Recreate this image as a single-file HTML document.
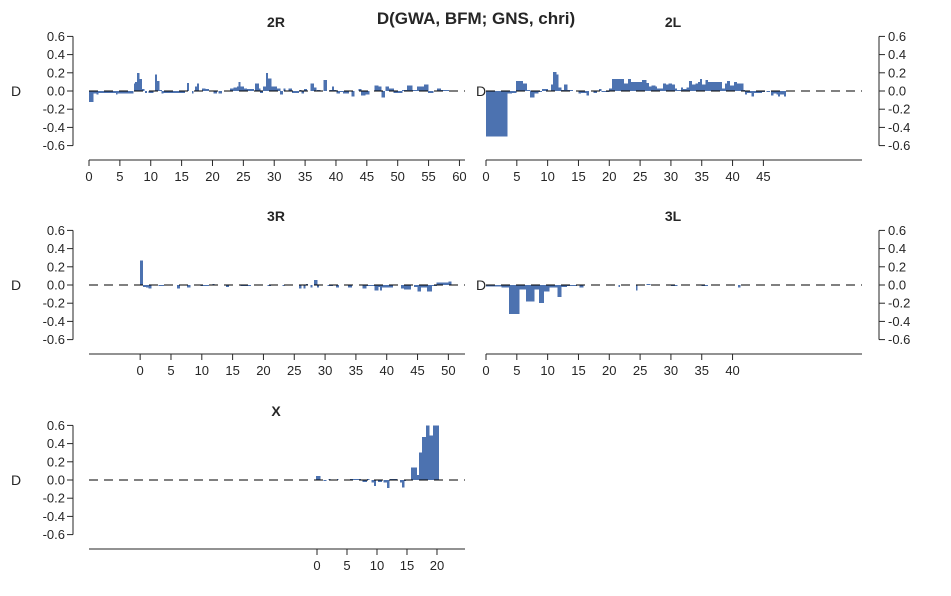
<!DOCTYPE html>
<html><head><meta charset="utf-8">
<style>
html,body{margin:0;padding:0;background:#fff;}
svg{display:block;font-family:"Liberation Sans",Arial,sans-serif;}
</style></head>
<body>
<svg id="chart" width="951" height="596" viewBox="0 0 951 596">
<text x="476" y="24" text-anchor="middle" font-size="17" font-weight="bold" fill="#262626">D(GWA, BFM; GNS, chri)</text>
</svg>
<script>
// ---- data (genomic window starts/ends in Mb, D values) ----
const r2R_start=[0,0.65,1.24,1.51,3.14,4.38,4.59,7.3,7.46,7.78,8.16,8.54,9.08,9.62,10.7,10.97,11.35,11.78,12.05,15.84,16.65,17.19,17.46,18.27,18.81,20.16,20.97,22.86,23.41,23.95,24.22,24.49,25.03,25.57,26.92,27.46,27.73,28.16,28.7,28.97,29.51,30.43,30.97,31.51,32.32,32.86,34.11,34.38,34.86,35.84,36.38,36.92,38,38.97,39.35,39.62,40.05,40.59,41.14,42.49,43.68,44.05,44.76,46.22,46.81,47.35,48,48.54,49.35,50.7,51.51,52.32,53.14,54.22,54.92,56.38,57];
const r2R_end=[0.65,1.24,1.51,3.14,4.38,4.59,7.19,7.46,7.78,8.16,8.54,8.92,9.35,10.43,10.97,11.35,11.78,12.05,15.5,16.16,16.9,17.46,17.73,18.81,19.35,20.7,21.51,23.41,23.95,24.22,24.49,25.03,25.57,26.65,27.46,27.73,28.16,28.7,28.97,29.51,30.43,30.97,31.41,31.78,32.86,33.95,34.38,34.76,35.3,36.38,36.81,37.46,38.54,39.35,39.62,40.05,40.59,41.14,42.05,42.97,44.05,44.76,45.41,46.81,47.35,47.89,48.54,49.35,50.7,51.51,52.32,53.14,54.22,54.92,55.73,57,58.27];
const r2R_val=[-0.12,-0.03,-0.04,-0.02,-0.02,-0.04,-0.025,0.08,0.1,0.2,0.13,0.02,-0.02,-0.02,0.18,0.11,0.01,-0.03,-0.02,0.09,-0.03,0.05,0.08,0.03,0.02,-0.03,-0.03,0.03,0.04,0.05,0.1,0.05,0.03,0.02,0.08,0.03,-0.02,0.05,0.2,0.14,0.05,0.03,-0.04,0.03,0.03,-0.02,0.01,-0.03,0.02,0.08,0.04,0.01,0.12,0.01,0.05,0.01,-0.03,-0.01,-0.03,-0.06,0.02,-0.05,-0.04,0.06,0.05,-0.07,0.05,0.03,-0.02,0.01,0.06,0.01,0.05,0.07,-0.02,0.03,0.01];

const r2L_start=[0,3.4,4.16,4.86,5.95,6.6,7.14,7.78,8.49,9.08,10.54,10.86,11.35,11.68,12.16,12.65,13.14,14.97,15.35,16.32,17.41,18.32,18.76,19.95,20.43,22.38,23.03,23.46,25.3,25.95,26.38,26.81,27.41,27.68,28.7,29.19,29.62,30.11,30.65,30.92,31.62,31.95,32.54,32.92,33.41,33.95,34.38,34.7,35.03,35.62,35.95,38.22,38.76,39.08,39.57,40.22,40.65,41.73,42,42.27,43.08,43.46,44.7,45.51,46.22,46.59,47.14,47.41,47.68,48.32];
const r2L_end=[3.4,4.16,4.86,5.95,6.6,7.14,7.78,8.49,9.03,10,10.86,11.35,11.68,12.16,12.65,13.14,14.05,15.35,16.32,16.65,17.95,18.7,19.95,20.43,22.38,23.03,23.46,25.3,25.95,26.38,26.81,27.41,27.68,28.7,29.19,29.62,30.11,30.65,30.92,31.62,31.95,32.54,32.92,33.41,33.95,34.38,34.7,35.03,35.62,35.95,38.22,38.76,39.08,39.57,40.22,40.65,41.73,42,42.27,43.08,43.46,44.7,45.24,46.05,46.59,47.14,47.41,47.68,48.32,48.59];
const r2L_val=[-0.5,-0.03,-0.02,0.11,0.08,0.01,-0.07,-0.03,-0.01,0.02,0.07,0.21,0.18,0.04,0.01,0.07,0.01,-0.03,-0.02,-0.05,-0.02,0.02,-0.01,0.03,0.13,0.08,0.13,0.1,0.12,0.09,0.05,0.06,0.05,0.03,0.08,0.07,0.08,0.07,0.03,0.01,0.04,0.02,0.04,0.11,0.07,0.08,0.1,0.13,0.07,0.12,0.1,0.03,0.08,0.11,0.06,0.1,0.08,0.01,-0.04,-0.02,-0.06,-0.02,-0.01,-0.01,-0.05,-0.03,-0.04,-0.06,-0.04,-0.06];

const r3R_start=[0,0.43,0.98,1.36,3,6,7.6,9.8,11.7,13.9,16.3,20.65,23.1,25.8,26.5,26.9,27.6,28.2,28.7,30.4,31.8,33.7,36.1,36.7,38,38.6,38.9,39.2,42.3,42.8,44.4,45,45.5,46.5,47.3,48.1,50];
const r3R_end=[0.43,0.98,1.36,1.79,3.8,6.4,8.15,11.1,12,14.4,17.9,21.2,23.4,26.1,26.8,27.2,27.9,28.7,29,31.25,32.2,34.35,36.7,38,38.6,38.9,39.2,41,42.8,43.9,45,45.5,46.5,47.3,48.1,50,50.5];
const r3R_val=[0.27,-0.02,-0.03,-0.04,-0.01,-0.04,-0.03,-0.01,0.01,-0.02,-0.01,-0.01,-0.01,-0.04,-0.04,0.01,-0.03,0.055,-0.03,-0.01,-0.03,-0.03,-0.04,-0.01,-0.06,-0.02,-0.06,-0.03,-0.04,-0.05,-0.02,-0.07,-0.03,-0.07,-0.01,0.03,0.04];

const r3L_start=[0,2.54,3.73,5.35,6.49,7.78,8.6,9.4,10.27,11.62,12.16,13.1,15.2,21.5,24.3,26.05,30,35,40.9];
const r3L_end=[2.54,3.73,5.35,6.49,7.78,8.6,9.4,10.27,11.62,12.16,13.1,14.7,15.8,21.7,24.5,26.6,31,36,41.2];
const r3L_val=[-0.015,-0.03,-0.32,-0.05,-0.18,-0.05,-0.2,-0.07,-0.03,-0.13,-0.02,-0.01,-0.03,-0.02,-0.06,0.01,-0.01,-0.01,-0.03];

const rX_start=[-0.17,1.06,1.9,3.3,5.5,7.6,8.3,9.1,9.5,10.2,11.05,11.7,12.2,13.8,14.2,14.5,15.7,16.6,17,17.5,18.2,18.7,19.3];
const rX_end=[0.5,1.5,2.2,3.55,7.3,8.3,8.7,9.5,9.8,10.8,11.7,12,13.3,14.2,14.5,14.8,16.6,17,17.5,18.2,18.7,19.3,20.3];
const rX_val=[0.044,-0.01,0.01,0.01,0.01,-0.02,0.01,-0.03,-0.065,-0.02,-0.03,-0.09,0.01,-0.03,-0.085,-0.01,0.14,0.055,0.3,0.47,0.6,0.49,0.6];

const xTicks2R=[0,5,10,15,20,25,30,35,40,45,50,55,60];
const xTicks2L=[0,5,10,15,20,25,30,35,40,45];
const xTicks3R=[0,5,10,15,20,25,30,35,40,45,50];
const xTicks3L=[0,5,10,15,20,25,30,35,40];
const xTicksX=[0,5,10,15,20];
const yTicks=[0.6,0.4,0.2,0.0,-0.2,-0.4,-0.6];

// ---- layout ----
const NS='http://www.w3.org/2000/svg';
const svg=document.getElementById('chart');
function mk(tag,attrs,parent){const e=document.createElementNS(NS,tag);for(const k in attrs)e.setAttribute(k,attrs[k]);(parent||svg).appendChild(e);return e;}

const panels=[
 {name:'2R',starts:r2R_start,ends:r2R_end,vals:r2R_val,ticks:xTicks2R,x0:89,x1:465,xmin:0,xmax:60.9,zero:91,side:'left'},
 {name:'2L',starts:r2L_start,ends:r2L_end,vals:r2L_val,ticks:xTicks2L,x0:486,x1:862,xmin:0,xmax:61,zero:91,side:'right'},
 {name:'3R',starts:r3R_start,ends:r3R_end,vals:r3R_val,ticks:xTicks3R,x0:89,x1:465,xmin:-8.3,xmax:52.7,zero:285,side:'left'},
 {name:'3L',starts:r3L_start,ends:r3L_end,vals:r3L_val,ticks:xTicks3L,x0:486,x1:862,xmin:0,xmax:61,zero:285,side:'right'},
 {name:'X',starts:rX_start,ends:rX_end,vals:rX_val,ticks:xTicksX,x0:89,x1:465,xmin:-38,xmax:24.67,zero:480,side:'left'}
];
const YS=91; // px per unit D

panels.forEach(p=>{
 const g=mk('g',{});
 
 
 const xs=v=>p.x0+(v-p.xmin)/(p.xmax-p.xmin)*(p.x1-p.x0);
 const ys=v=>p.zero-v*YS;
 const t=mk('text',{x:(p.x0+p.x1)/2-1,y:p.zero-64,'text-anchor':'middle','font-size':14,'font-weight':'bold',fill:'#262626'},g);
 t.textContent=p.name;
 
 
 for(let i=0;i<p.vals.length;i++){
  const a=xs(p.starts[i]),b=xs(p.ends[i]);
  const y0=ys(0),y1=ys(p.vals[i]);
  const r=mk('rect',{x:a,y:Math.min(y0,y1),width:Math.max(1,b-a+0.3),height:Math.max(1,Math.abs(y1-y0)),fill:'#4c72b0','shape-rendering':'crispEdges'},g);
  
  
 }
 const zl=mk('line',{x1:p.x0,x2:p.x1,y1:ys(0),y2:ys(0),stroke:'#000','stroke-width':1,'stroke-dasharray':'9,6'},g);
 
 
 const ay=p.zero+69;
 const xa=mk('line',{x1:p.x0,x2:p.x1,y1:ay,y2:ay,stroke:'#262626','stroke-width':1},g);
 
 
 p.ticks.forEach(v=>{
  const x=xs(v);
  mk('line',{x1:x,x2:x,y1:ay,y2:ay+6,stroke:'#262626','stroke-width':1},g);
  const tl=mk('text',{x:x,y:ay+21,'text-anchor':'middle','font-size':13,fill:'#262626'},g);
  tl.textContent=String(v);
  
  
 });
 const sx=p.side==='left'?73:879;
 const ya=mk('line',{x1:sx,x2:sx,y1:ys(0.6),y2:ys(-0.6),stroke:'#262626','stroke-width':1},g);
 
 
 yTicks.forEach(v=>{
  const y=ys(v);
  const dir=p.side==='left'?-6:6;
  mk('line',{x1:sx,x2:sx+dir,y1:y,y2:y,stroke:'#262626','stroke-width':1},g);
  const yl=mk('text',{x:p.side==='left'?sx-8:sx+9,y:y+4.5,'text-anchor':p.side==='left'?'end':'start','font-size':13,fill:'#262626'},g);
  yl.textContent=(v<0?'-':'')+Math.abs(v).toFixed(1);
  
  
 });
 const d=mk('text',{x:p.side==='left'?16:481,y:ys(0)+5,'text-anchor':'middle','font-size':14,fill:'#262626'},g);
 d.textContent='D';
 
 
});
</script>
</body></html>
